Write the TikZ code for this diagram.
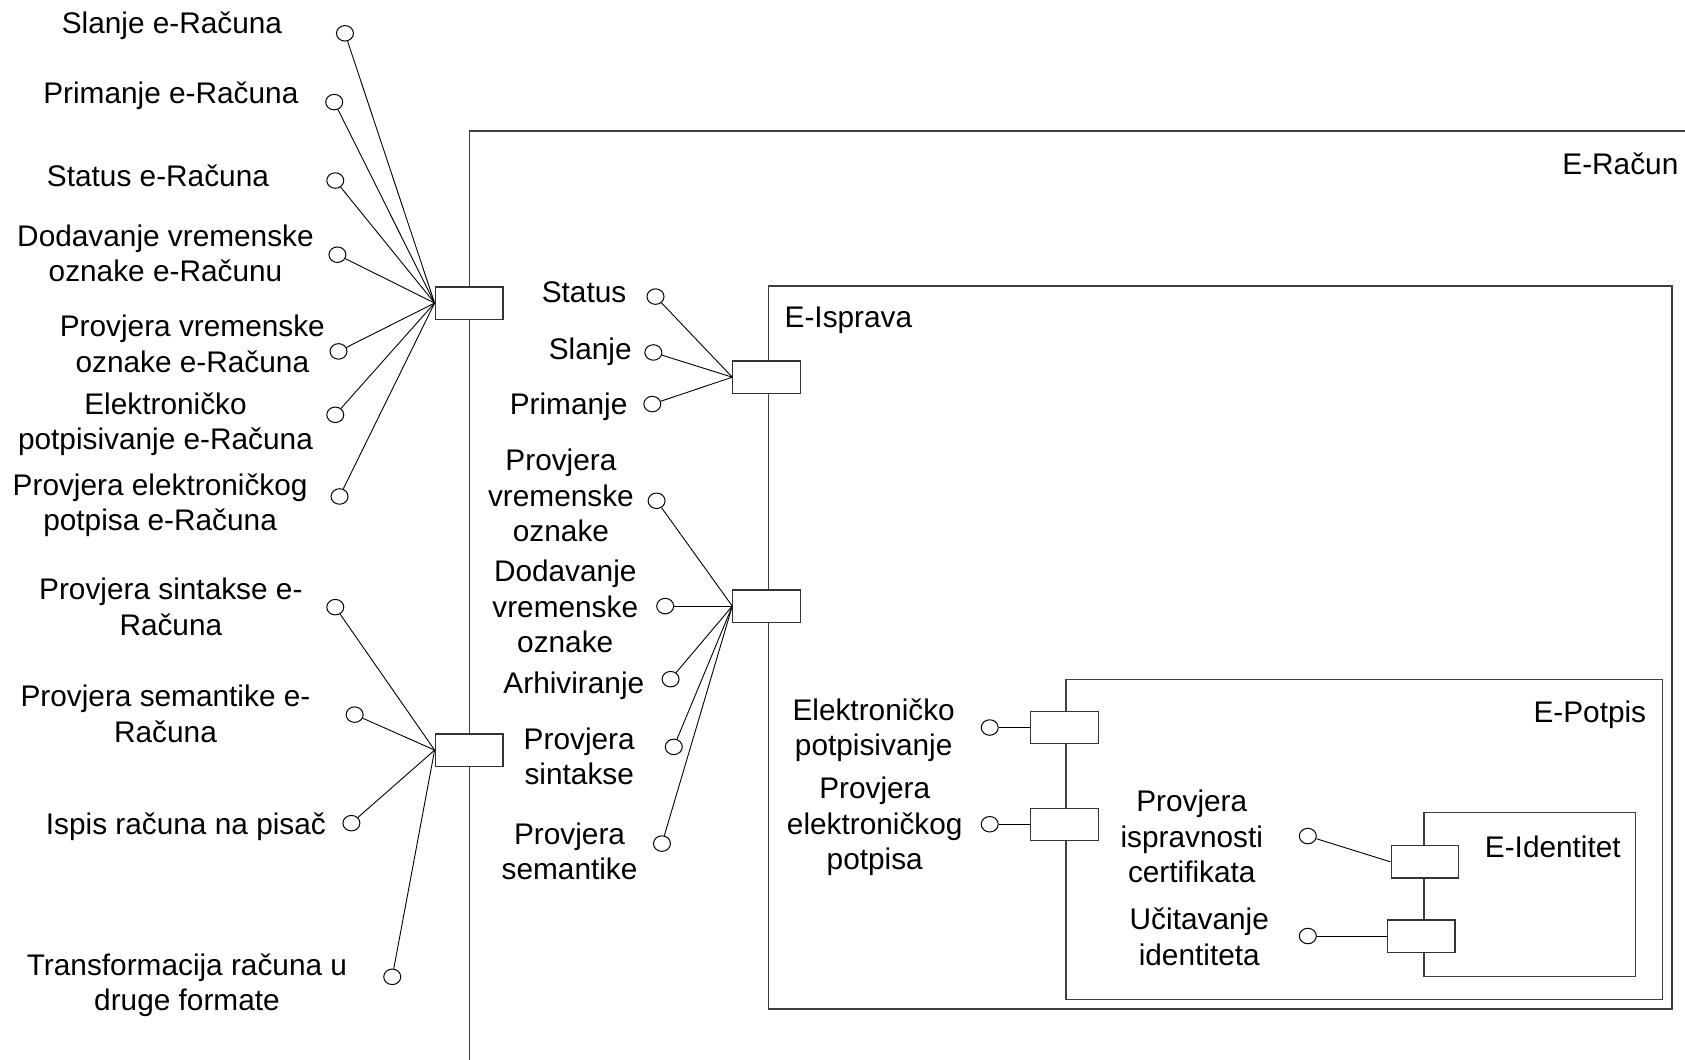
\documentclass[tikz,border=0pt]{standalone}
\usepackage{fontspec}
\setmainfont{Liberation Sans}
\usetikzlibrary{shapes.geometric}
\begin{document}
\begin{tikzpicture}[x=1.0746pt,y=-1.0746pt,
  lbl/.style={align=center, inner sep=0pt, yshift=-2.5pt, font=\fontsize{29.8}{35.5}\selectfont},
  rlbl/.style={lbl, align=right, anchor=east},
  port/.style={draw=black!80, fill=white, rectangle, minimum width=67.7pt, minimum height=32.2pt, inner sep=0pt, line width=1.2pt},
  iface/.style={draw, fill=white, ellipse, minimum width=17pt, minimum height=15.5pt, inner sep=0pt, line width=1pt},
  wire/.style={line width=0.9pt},
  frame/.style={draw=black!75, line width=1.3pt}]
\clip (0,0) rectangle (1568,986);
\fill[white] (0,0) rectangle (1568,986);

% component frames
\draw[frame] (437,1000) -- (437,122) -- (1580,122);
\node[lbl, anchor=east] (tRacun) at (1562,150) {E-Račun};
\draw[frame] (715,266) rectangle (1556,939);
\node[lbl, anchor=west] (tIsprava) at (730,296) {E-Isprava};
\draw[frame] (992,632) rectangle (1547,930);
\node[lbl, anchor=east] (tPotpis) at (1532,663) {E-Potpis};
\draw[frame] (1325,756) rectangle (1522,909);
\node[lbl] (tIdent) at (1445,786) {E-Identitet};

% ports
\node[port] (pa) at (436.5,282) {};
\node[port] (pb) at (436.5,698) {};
\node[port] (pc) at (713.5,351) {};
\node[port] (pd) at (713.5,564) {};
\node[port] (pe) at (990.5,677) {};
\node[port] (pf) at (990.5,767) {};
\node[port] (pg) at (1326,802) {};
\node[port] (ph) at (1322.5,871) {};

% E-Račun: first port
\node[lbl] (n1) at (160,22) {Slanje e-Računa};
\node[lbl] (n2) at (159,87) {Primanje e-Računa};
\node[lbl] (n3) at (147,161) {Status e-Računa};
\node[lbl] (n4) at (154,233.5) {Dodavanje vremenske\\oznake e-Računu};
\node[lbl] (n5) at (179,317.5) {Provjera vremenske\\oznake e-Računa};
\node[lbl] (n6) at (154,392.5) {Elektroničko\\potpisivanje e-Računa};
\node[lbl] (n7) at (149,468) {Provjera elektroničkog\\potpisa e-Računa};
\node[iface] (c1) at (321,31) {};
\node[iface] (c2) at (311,95) {};
\node[iface] (c3) at (312,168) {};
\node[iface] (c4) at (314,237) {};
\node[iface] (c5) at (315,327) {};
\node[iface] (c6) at (312,386) {};
\node[iface] (c7) at (316,462) {};
\foreach \c in {c1,c2,c3,c4,c5,c6,c7} \draw[wire] (\c) -- (pa.west);

% E-Račun: second port
\node[lbl] (n8) at (159,562.5) {Provjera sintakse e-\\Računa};
\node[lbl] (n9) at (154,662) {Provjera semantike e-\\Računa};
\node[lbl] (n10) at (173,767) {Ispis računa na pisač};
\node[lbl] (n11) at (174,914.5) {Transformacija računa u\\druge formate};
\node[iface] (c8) at (312,565) {};
\node[iface] (c9) at (330,665) {};
\node[iface] (c10) at (327,766) {};
\node[iface] (c11) at (365,909) {};
\foreach \c in {c8,c9,c10,c11} \draw[wire] (\c) -- (pb.west);

% E-Isprava: first port
\node[rlbl] (m1) at (583,270) {Status};
\node[rlbl] (m2) at (588,325) {Slanje};
\node[rlbl] (m3) at (584,376) {Primanje};
\node[iface] (d1) at (610,276) {};
\node[iface] (d2) at (608,328) {};
\node[iface] (d3) at (607,376) {};
\foreach \c in {d1,d2,d3} \draw[wire] (\c) -- (pc.west);

% E-Isprava: second port
\node[lbl] (m4) at (522,459) {Provjera\\vremenske\\oznake};
\node[lbl] (m5) at (526,562) {Dodavanje\\vremenske\\oznake};
\node[lbl] (m6) at (534,636) {Arhiviranje};
\node[lbl] (m7) at (539,701.5) {Provjera\\sintakse};
\node[lbl] (m8) at (530,790) {Provjera\\semantike};
\node[iface] (d4) at (611,466) {};
\node[iface] (d5) at (619,564) {};
\node[iface] (d6) at (624,632) {};
\node[iface] (d7) at (627,695) {};
\node[iface] (d8) at (616,785) {};
\foreach \c in {d4,d5,d6,d7,d8} \draw[wire] (\c) -- (pd.west);

% E-Potpis
\node[lbl] (k1) at (813,677) {Elektroničko\\potpisivanje};
\node[lbl] (k2) at (814,767) {Provjera\\elektroničkog\\potpisa};
\node[iface] (e1) at (921,677) {};
\node[iface] (e2) at (921,767) {};
\draw[wire] (e1) -- (pe.west);
\draw[wire] (e2) -- (pf.west);

% E-Identitet
\node[lbl] (k3) at (1109,776) {Provjera\\ispravnosti\\certifikata};
\node[lbl] (k4) at (1116,869.5) {Učitavanje\\identiteta};
\node[iface] (e3) at (1217,778) {};
\node[iface] (e4) at (1217,871) {};
\draw[wire] (e3) -- (pg.west);
\draw[wire] (e4) -- (ph.west);
\end{tikzpicture}
\end{document}
